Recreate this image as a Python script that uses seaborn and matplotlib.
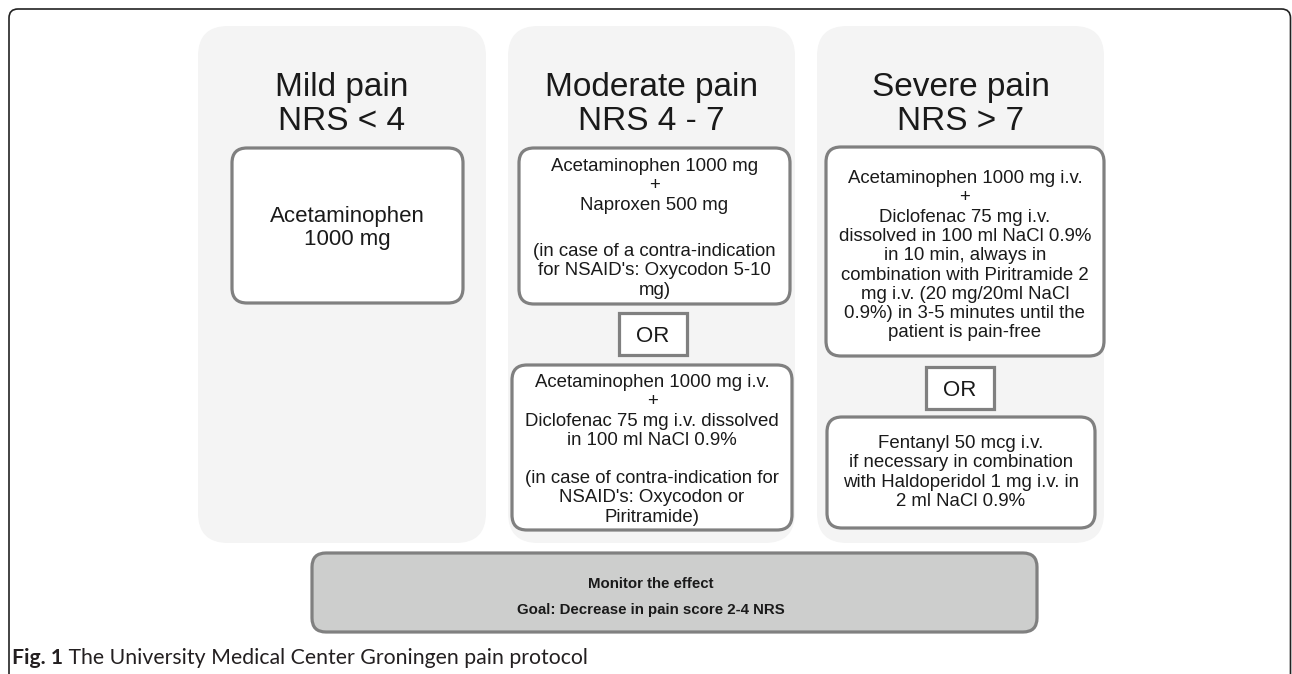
import matplotlib
matplotlib.use("Agg")
import matplotlib.pyplot as plt
import matplotlib.transforms as mtransforms
import seaborn as sns
from matplotlib.patches import FancyBboxPatch, Rectangle, PathPatch
from matplotlib.path import Path

# ---- content ----
panel_titles = [
    "Mild pain\nNRS < 4",
    "Moderate pain\nNRS 4 - 7",
    "Severe pain\nNRS > 7",
]

mild_text = ["Acetaminophen\n1000 mg"]

moderate_first = [
    "Acetaminophen 1000 mg\n+\nNaproxen 500 mg",
    "(in case of a contra-indication\nfor NSAID's: Oxycodon 5-10\nmg)",
]
moderate_second = [
    "Acetaminophen 1000 mg i.v.\n+\nDiclofenac 75 mg i.v. dissolved\nin 100 ml NaCl 0.9%",
    "(in case of contra-indication for\nNSAID's: Oxycodon or\nPiritramide)",
]
severe_first = [
    "Acetaminophen 1000 mg i.v.\n+\nDiclofenac 75 mg i.v.\n"
    "dissolved in 100 ml NaCl 0.9%\nin 10 min, always in\n"
    "combination with Piritramide 2\nmg i.v. (20 mg/20ml NaCl\n"
    "0.9%) in 3-5 minutes until the\npatient is pain-free",
]
severe_second = [
    "Fentanyl 50 mcg i.v.\nif necessary in combination\n"
    "with Haldoperidol 1 mg i.v. in\n2 ml NaCl 0.9%",
]

or_label = "OR"
monitor_lines = ["Monitor the effect", "Goal: Decrease in pain score 2-4 NRS"]
caption_bold = "Fig. 1"
caption_text = " The University Medical Center Groningen pain protocol"

# ---- style ----
sns.set_style("white")
plt.rcParams["font.family"] = ["Liberation Sans", "DejaVu Sans"]

W, H = 1292, 674
fig = plt.figure(figsize=(W / 100, H / 100), dpi=100)
ax = fig.add_axes([0, 0, 1, 1])
ax.set_xlim(0, W)
ax.set_ylim(H, 0)
ax.axis("off")

txt_col = "#1a1a1a"
edge_col = "#808080"
panel_col = "#f4f4f4"


def rbox(x0, y0, x1, y1, r, fc, ec="none", lw=0, z=1):
    p = FancyBboxPatch((x0, y0), x1 - x0, y1 - y0,
                       boxstyle=f"round,pad=0,rounding_size={r}",
                       fc=fc, ec=ec, lw=lw, zorder=z)
    ax.add_patch(p)


def lines_at(x, y_first, block, step, **kw):
    for i, line in enumerate(block.split("\n")):
        ax.text(x, y_first + i * step, line, ha="center", va="baseline",
                zorder=3, **kw)


# outer frame (open at bottom)
r = 9
verts = [(9, H + 5), (9, 9 + r), (9, 9), (9 + r, 9), (W - 1.5 - r, 9),
         (W - 1.5, 9), (W - 1.5, 9 + r), (W - 1.5, H + 5)]
codes = [Path.MOVETO, Path.LINETO, Path.CURVE3, Path.CURVE3, Path.LINETO,
         Path.CURVE3, Path.CURVE3, Path.LINETO]
ax.add_patch(PathPatch(Path(verts, codes), fc="none", ec="#222222", lw=1.2, zorder=0))

# panels
panels = [(198, 486), (508, 795), (817, 1104)]
for (x0, x1), title in zip(panels, panel_titles):
    rbox(x0, 26, x1, 543, 30, panel_col)
    lines_at((x0 + x1) / 2, 96, title, 34, fontsize=24, color=txt_col)

box_lw = 2.3


def drug_box(x0, y0, x1, y1, blocks, baselines, fs=13.4, step=19.3):
    rbox(x0, y0, x1, y1, 15, "white", edge_col, box_lw, z=2)
    for b, yb in zip(blocks, baselines):
        lines_at((x0 + x1) / 2, yb, b, step, fontsize=fs, color=txt_col)


def or_box(x0, y0, x1, y1):
    ax.add_patch(Rectangle((x0, y0), x1 - x0, y1 - y0, fc="white",
                           ec=edge_col, lw=box_lw, zorder=2))
    ax.text((x0 + x1) / 2, (y0 + y1) / 2 + 8, or_label, ha="center",
            va="baseline", fontsize=16, color=txt_col, zorder=3)


drug_box(232, 148, 463, 303, mild_text, [222], fs=16, step=23)
drug_box(519, 148, 790, 304, moderate_first, [171, 256])
or_box(619, 313, 687, 355)
drug_box(512, 365, 792, 530, moderate_second, [387, 483])
drug_box(826, 147, 1104, 356, severe_first, [183])
or_box(926, 367, 994, 409)
drug_box(827, 417, 1095, 528, severe_second, [448])

# monitor box
rbox(312, 553, 1037, 632, 14, "#cdcecd", edge_col, box_lw, z=2)
for line, yb in zip(monitor_lines, [588, 614]):
    ax.text(651, yb, line, ha="center", va="baseline", fontsize=10.8,
            fontweight="bold", color=txt_col, zorder=3,
            family=["Liberation Sans Narrow", "Liberation Sans"])

# caption
cap_font = ["Lato", "DejaVu Sans"]
t1 = ax.text(12, 664, caption_bold, ha="left", va="baseline", fontsize=15.3,
             fontweight="bold", color="#231f20", family=cap_font)
fig.canvas.draw()
bb = t1.get_window_extent(renderer=fig.canvas.get_renderer())
ax.text(bb.x1, 664, caption_text, ha="left", va="baseline", fontsize=15.3,
        color="#231f20", family=cap_font,
        transform=mtransforms.blended_transform_factory(
            mtransforms.IdentityTransform(), ax.transData))

fig.savefig("out.png", dpi=100)
